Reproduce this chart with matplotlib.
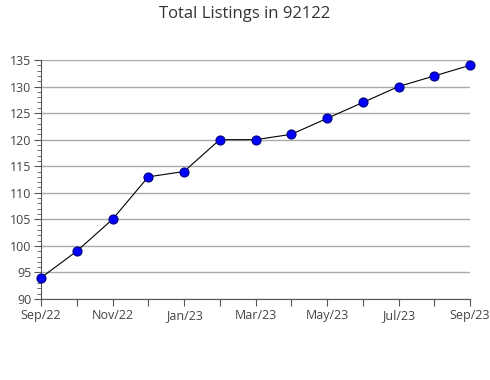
import matplotlib
matplotlib.use("Agg")
import matplotlib.pyplot as plt
from matplotlib.ticker import MultipleLocator

plt.rcParams['font.family'] = ['Open Sans', 'DejaVu Sans']

months = ['Sep/22', 'Oct/22', 'Nov/22', 'Dec/22', 'Jan/23', 'Feb/23', 'Mar/23',
          'Apr/23', 'May/23', 'Jun/23', 'Jul/23', 'Aug/23', 'Sep/23']
listings = [94, 99, 105, 113, 114, 120, 120, 121, 124, 127, 130, 132, 134]
tick_labels = [m if i % 2 == 0 else '' for i, m in enumerate(months)]

fig = plt.figure(figsize=(4.9, 3.8), dpi=100)
ax = fig.add_axes([41/490, 1 - 299/380, (470 - 41)/490, (299 - 60)/380])

x = list(range(len(months)))
ax.plot(x, listings, color='black', lw=0.8, marker='o', markersize=6.5,
        markerfacecolor='#0000ff', markeredgecolor='#000080', markeredgewidth=0.8,
        zorder=3, clip_on=False)

ax.set_xlim(0, len(months) - 1)
ax.set_ylim(90, 135)
ax.yaxis.set_major_locator(MultipleLocator(5))
ax.yaxis.set_minor_locator(MultipleLocator(1))
ax.set_xticks(x)
ax.set_xticklabels(tick_labels)
ax.grid(axis='y', color='#aaaaaa', lw=1)
ax.set_axisbelow(True)

for s in ['top', 'right']:
    ax.spines[s].set_visible(False)
for s in ['left', 'bottom']:
    ax.spines[s].set_color('#555555')
ax.tick_params(axis='both', which='major', colors='#555555', labelcolor='#444444',
               labelsize=9, length=5, pad=2)
ax.tick_params(axis='y', which='minor', colors='#555555', length=3)

fig.suptitle('Total Listings in 92122', y=0.985, fontsize=12, color='#333333')
fig.savefig('out.png', dpi=100)
